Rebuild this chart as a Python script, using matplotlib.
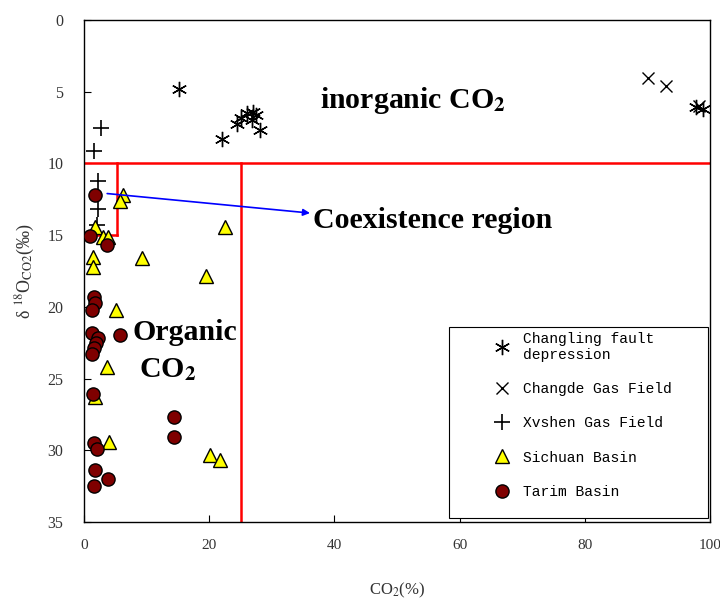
import matplotlib
matplotlib.use("Agg")
import matplotlib.pyplot as plt
from matplotlib.patches import Rectangle

plt.rcParams['mathtext.fontset'] = 'stix'

# ---- data (CO2 %, delta18O CO2 permil) ----
changling_x = [15.2, 22.0, 24.5, 25.1, 26.1, 27.0, 27.5, 26.9, 28.1, 97.7, 98.9]
changling_y = [4.8, 8.3, 7.25, 6.8, 6.5, 6.4, 6.6, 7.0, 7.7, 6.1, 6.2]

changde_x = [90.1, 93.0, 98.2]
changde_y = [4.07, 4.6, 6.0]

xvshen_x = [2.7, 1.6, 2.3, 2.3, 2.0]
xvshen_y = [7.5, 9.1, 11.2, 13.2, 14.3]

sichuan_x = [6.3, 5.75, 22.5, 1.75, 3.1, 3.9, 9.2, 1.5, 1.5, 19.5, 5.1, 3.6, 1.75, 4.0, 20.2, 21.7]
sichuan_y = [12.2, 12.6, 14.4, 14.4, 15.1, 15.1, 16.6, 16.5, 17.2, 17.85, 20.2, 24.2, 26.3, 29.4, 30.3, 30.7]

tarim_x = [1.75, 0.96, 3.7, 1.6, 1.75, 1.2, 1.2, 2.3, 1.9, 1.6, 1.2, 5.75, 1.4,
           1.6, 2.1, 1.75, 1.6, 3.9, 14.4, 14.4]
tarim_y = [12.2, 15.06, 15.7, 19.3, 19.7, 20.2, 21.85, 22.2, 22.5, 22.9, 23.3, 21.97, 26.1,
           29.5, 29.9, 31.4, 32.5, 32.0, 27.7, 29.1]

# region boundaries
boundary_y_inorganic = 10
coexist_x = 5.3
coexist_y = 15
organic_x = 25

x_ticks = [0, 20, 40, 60, 80, 100]
y_ticks = [0, 5, 10, 15, 20, 25, 30, 35]

fig = plt.figure(figsize=(7.2, 6.02), dpi=100)
ax = fig.add_axes([84/720, 1-522/602, (710-84)/720, (522-20)/602])

serif = 'Liberation Serif'
mono = 'Liberation Mono'

# boundaries
ax.plot([0, 100], [boundary_y_inorganic]*2, color='red', lw=1.8, zorder=2)
ax.plot([coexist_x, coexist_x], [boundary_y_inorganic, coexist_y], color='red', lw=1.8, zorder=2)
ax.plot([0, coexist_x], [coexist_y, coexist_y], color='red', lw=1.8, zorder=2)
ax.plot([organic_x, organic_x], [boundary_y_inorganic, 35], color='red', lw=1.8, zorder=2)

ax.plot(changling_x, changling_y, linestyle='none', marker=(6, 2, 0), ms=11, mew=1.0,
        color='black', label='Changling fault\ndepression', zorder=3)
ax.plot(changde_x, changde_y, linestyle='none', marker='x', ms=9, mew=1.0,
        color='black', label='Changde Gas Field', zorder=3)
ax.plot(xvshen_x, xvshen_y, linestyle='none', marker='+', ms=11, mew=1.2,
        color='black', label='Xvshen Gas Field', zorder=3)
ax.plot(sichuan_x, sichuan_y, linestyle='none', marker='^', ms=10.5, mew=1.0,
        mfc='#FFFF00', mec='black', label='Sichuan Basin', zorder=4)
ax.plot(tarim_x, tarim_y, linestyle='none', marker='o', ms=9.5, mew=1.0,
        mfc='#7F0000', mec='black', label='Tarim Basin', zorder=5)

# arrow
ax.annotate('', xy=(36.1, 13.46), xytext=(3.7, 12.1),
            arrowprops=dict(arrowstyle='-|>', color='blue', lw=1.2,
                            mutation_scale=10, shrinkA=0, shrinkB=0), zorder=6)

fs_big = 21.5
ax.text(52.6, 5.6, 'inorganic CO$_\\mathbf{2}$', fontsize=fs_big, fontweight='bold',
        family=serif, ha='center', va='center')
ax.text(36.6, 13.95, 'Coexistence region', fontsize=fs_big, fontweight='bold',
        family=serif, ha='left', va='center')
ax.text(16.1, 21.8, 'Organic', fontsize=fs_big, fontweight='bold',
        family=serif, ha='center', va='center')
ax.text(13.3, 24.4, 'CO$_\\mathbf{2}$', fontsize=fs_big, fontweight='bold',
        family=serif, ha='center', va='center')

ax.set_xlim(0, 100)
ax.set_ylim(35, 0)
ax.set_xticks(x_ticks)
ax.set_yticks(y_ticks)
ax.tick_params(direction='in', length=5, width=0.8, labelsize=11.5, colors='black')
ax.tick_params(axis='x', pad=12, labelsize=11)
ax.tick_params(axis='y', pad=15)
for lab in ax.get_xticklabels() + ax.get_yticklabels():
    lab.set_family(serif)
    lab.set_color('#333333')
for s in ax.spines.values():
    s.set_linewidth(1.0)

ax.set_xlabel('CO$_2$(%)', fontsize=12, family=serif, labelpad=21, color='#333333')
ax.set_ylabel('δ $^{18}$O$_{\\mathrm{CO2}}$(‰)', fontsize=13, family=serif,
              labelpad=7, color='#333333')

# legend frame
ax.add_patch(Rectangle(((449-84)/626, (522-518)/502), (708-449)/626, (518-327)/502,
                       transform=ax.transAxes, fill=True, facecolor='white',
                       edgecolor='black', lw=0.8, zorder=7))
leg = ax.legend(loc='upper left', bbox_to_anchor=((493-84)/626, (522-332)/502),
                frameon=False, prop={'family': mono, 'size': 10.5},
                labelspacing=1.38, handletextpad=0.85, handlelength=1.2,
                borderpad=0, borderaxespad=0, numpoints=1)
leg.set_zorder(8)

fig.savefig('out.png', dpi=100)
